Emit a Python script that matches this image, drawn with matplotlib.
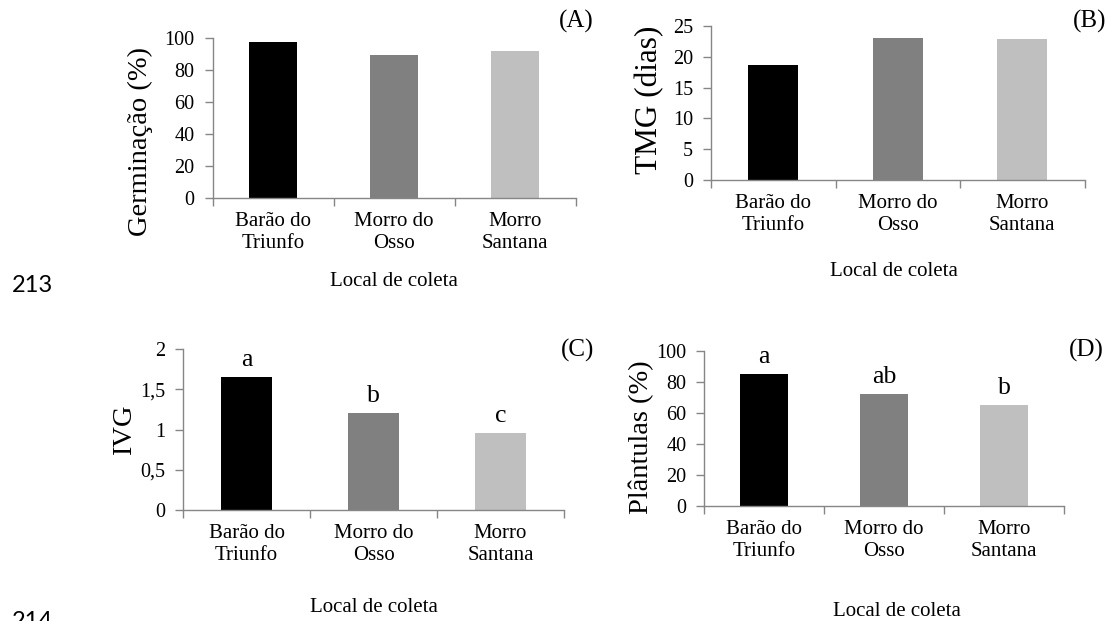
import numpy as np
import matplotlib.pyplot as plt
from matplotlib.ticker import FixedLocator, FuncFormatter

# dados
locais = ['Barão do\nTriunfo', 'Morro do\nOsso', 'Morro\nSantana']
germinacao = [97.1, 89.2, 91.7]
tmg = [18.6, 23.0, 22.9]
ivg = [1.655, 1.203, 0.958]
plantulas = [84.9, 72.0, 65.2]
letras_ivg = ['a', 'b', 'c']
letras_plant = ['a', 'ab', 'b']

ticks_germ = [0, 20, 40, 60, 80, 100]
ticks_tmg = [0, 5, 10, 15, 20, 25]
ticks_ivg = [0, 0.5, 1, 1.5, 2]
ticks_plant = [0, 20, 40, 60, 80, 100]

cores = ['#000000', '#808080', '#bfbfbf']
cinza = '#868686'

W, H = 1112, 621
plt.rcParams['font.family'] = 'Liberation Serif'
fig = plt.figure(figsize=(W / 100, H / 100), dpi=100)


def fx(x):
    return x / W


def fy(y):
    return 1 - y / H


def painel(box, valores, yticks, ylab, ylab_xy, xlab_xy, tag, tag_xy, letras=None, ylab_size=20.5):
    l, r, t, b = box
    ax = fig.add_axes([fx(l), fy(b), (r - l) / W, (b - t) / H])
    x = np.arange(len(locais))
    ax.bar(x, valores, width=0.4, color=cores, zorder=2)
    ax.set_xlim(-0.5, len(locais) - 0.5)
    ax.set_ylim(yticks[0], yticks[-1])

    for s in ['top', 'right']:
        ax.spines[s].set_visible(False)
    for s in ['left', 'bottom']:
        ax.spines[s].set_color(cinza)
        ax.spines[s].set_linewidth(1.0)

    ax.set_yticks(yticks)
    ax.yaxis.set_major_formatter(FuncFormatter(lambda v, p: ('%g' % v).replace('.', ',')))
    ax.tick_params(axis='y', direction='out', length=6, width=1, color=cinza,
                   labelsize=14.5, pad=7)

    ax.xaxis.set_major_locator(FixedLocator(np.arange(-0.5, len(locais), 1.0)))
    ax.xaxis.set_minor_locator(FixedLocator(x))
    ax.set_xticklabels([])
    ax.set_xticklabels(locais, minor=True)
    ax.tick_params(axis='x', which='major', direction='out', length=6, width=1, color=cinza)
    ax.tick_params(axis='x', which='minor', length=0, labelsize=15, pad=10)

    if letras:
        for xi, v, le in zip(x, valores, letras):
            ax.annotate(le, (xi, v), xytext=(0, 8), textcoords='offset points',
                        ha='center', va='baseline', fontsize=18.5)

    fig.text(fx(ylab_xy[0]), fy(ylab_xy[1]), ylab, rotation=90, ha='center',
             va='center', fontsize=ylab_size)
    fig.text(fx(xlab_xy[0]), fy(xlab_xy[1]), 'Local de coleta', ha='center',
             va='center', fontsize=15)
    fig.text(fx(tag_xy[0]), fy(tag_xy[1]), tag, ha='center', va='center', fontsize=18)
    return ax


painel((212.7, 575.7, 37.7, 198.3), germinacao, ticks_germ, 'Germinação (%)',
       (140, 142), (394, 282), '(A)', (576, 21))
painel((711, 1084.5, 25.7, 180.3), tmg, ticks_tmg, 'TMG (dias)',
       (650, 100), (894, 272), '(B)', (1090, 21), ylab_size=22.5)
painel((183.2, 564, 349.3, 510), ivg, ticks_ivg, 'IVG',
       (125, 430), (374, 607), '(C)', (578, 350), letras_ivg)
painel((704.4, 1064, 350.7, 506.3), plantulas, ticks_plant, 'Plântulas (%)',
       (641, 437), (897, 612), '(D)', (1086, 350), letras_plant)

# numeros de linha do documento
fig.text(fx(12), fy(285), '213', ha='left', va='center', fontsize=17, family='Lato')
fig.text(fx(12), fy(611), '214', ha='left', va='top', fontsize=17, family='Lato')

fig.savefig('out.png', dpi=100)
